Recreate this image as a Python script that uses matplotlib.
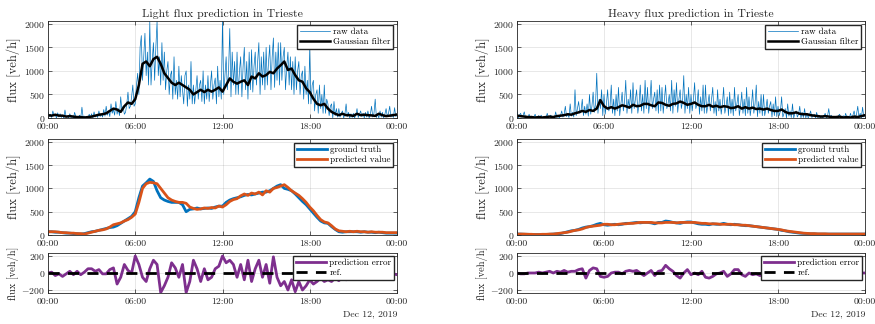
import matplotlib
matplotlib.use("Agg")
import matplotlib.pyplot as plt
import numpy as np

plt.rcParams['font.family'] = 'serif'
plt.rcParams['font.serif'] = ['cmr10']
plt.rcParams['mathtext.fontset'] = 'cm'
plt.rcParams['axes.unicode_minus'] = False
plt.rcParams['axes.formatter.use_mathtext'] = True

# tick labels for the time axis (hours of the day)
tick_hours = [0, 6, 12, 18, 24]
tick_labels = ["00:00", "06:00", "12:00", "18:00", "00:00"]
date_label = "Dec 12, 2019"

# raw data, every 5 minutes (veh/h), one row per hour
light_raw = [120, 30, 80, 10, 150, 40, 60, 0, 110, 20, 90, 10,
             60, 0, 170, 20, 40, 0, 90, 10, 30, 0, 120, 20,
             10, 0, 60, 0, 230, 10, 40, 0, 20, 0, 80, 10,
             90, 0, 130, 20, 60, 10, 150, 30, 90, 20, 180, 40,
             250, 60, 150, 30, 300, 100, 180, 60, 350, 80, 200, 50,
             450, 150, 250, 80, 120, 300, 550, 200, 250, 450, 700, 250,
             300, 700, 950, 500, 1500, 1750, 800, 1300, 1800, 900, 1400, 700,
             2050, 700, 1200, 1600, 800, 1500, 2050, 900, 1300, 700, 1600, 800,
             1400, 600, 1000, 1200, 500, 900, 1000, 400, 1300, 500, 800, 400,
             1100, 450, 900, 600, 300, 900, 1000, 250, 700, 400, 1200, 300,
             700, 300, 600, 900, 400, 700, 800, 350, 1000, 300, 700, 400,
             900, 350, 700, 1000, 400, 700, 850, 300, 1100, 450, 800, 400,
             2100, 500, 900, 1300, 600, 1000, 1900, 450, 1400, 700, 1200, 500,
             1400, 500, 1000, 1300, 450, 1100, 1500, 600, 1200, 400, 1400, 600,
             1450, 550, 1100, 1400, 700, 1200, 1600, 500, 1300, 700, 1400, 600,
             1500, 700, 1200, 1550, 600, 1300, 1700, 650, 1400, 800, 1600, 700,
             1600, 800, 1300, 1500, 600, 1100, 1400, 700, 1300, 600, 1200, 500,
             1300, 600, 1000, 1200, 500, 900, 1000, 400, 1100, 500, 800, 300,
             1500, 300, 700, 800, 150, 500, 600, 100, 700, 200, 500, 100,
             700, 100, 400, 300, 50, 250, 300, 0, 350, 50, 200, 20,
             200, 20, 100, 150, 0, 80, 300, 30, 120, 0, 90, 10,
             100, 0, 60, 200, 10, 80, 150, 30, 100, 0, 120, 20,
             150, 0, 80, 250, 20, 100, 400, 10, 90, 0, 150, 20,
             120, 0, 80, 200, 30, 100, 250, 20, 90, 10, 220, 30,
             60]
heavy_raw = [150, 0, 60, 100, 20, 50, 130, 10, 40, 0, 80, 10,
             40, 0, 30, 80, 0, 20, 50, 10, 60, 0, 30, 0,
             0, 100, 10, 30, 60, 0, 20, 0, 130, 10, 50, 0,
             50, 150, 20, 80, 250, 30, 80, 10, 300, 40, 120, 20,
             600, 50, 200, 350, 100, 150, 400, 50, 250, 80, 300, 40,
             500, 80, 250, 550, 120, 300, 950, 100, 400, 200, 600, 50,
             500, 80, 300, 600, 150, 250, 700, 100, 400, 50, 500, 150,
             650, 50, 300, 550, 150, 350, 800, 100, 400, 200, 600, 100,
             750, 200, 400, 600, 100, 300, 700, 150, 500, 100, 800, 200,
             650, 100, 350, 800, 200, 400, 550, 150, 600, 100, 700, 150,
             650, 100, 400, 700, 200, 300, 500, 150, 800, 100, 600, 250,
             750, 120, 400, 600, 200, 350, 900, 100, 500, 200, 650, 100,
             500, 150, 400, 750, 200, 300, 600, 80, 450, 150, 700, 100,
             700, 100, 300, 500, 150, 400, 650, 100, 350, 50, 600, 150,
             400, 80, 300, 650, 100, 250, 450, 50, 550, 100, 400, 50,
             650, 150, 300, 500, 50, 250, 550, 100, 400, 50, 650, 100,
             450, 50, 250, 600, 100, 300, 700, 30, 350, 100, 500, 50,
             500, 50, 200, 400, 100, 250, 350, 20, 300, 50, 450, 30,
             250, 50, 150, 450, 20, 100, 200, 0, 300, 40, 150, 10,
             300, 0, 100, 150, 20, 80, 250, 0, 120, 10, 200, 0,
             100, 0, 60, 150, 10, 40, 80, 0, 120, 0, 50, 0,
             50, 0, 30, 100, 0, 40, 200, 0, 60, 0, 30, 0,
             30, 0, 50, 80, 0, 20, 50, 0, 100, 0, 40, 0,
             100, 0, 60, 150, 0, 80, 250, 20, 100, 0, 230, 20,
             60]

# smoothed / predicted series, every 15 minutes (veh/h)
light_gauss = [60, 50, 70, 50, 50, 30, 40, 30, 20, 20, 10, 20,
               30, 50, 70, 80, 100, 150, 200, 180, 130, 250, 330, 300,
               400, 700, 1150, 1200, 1100, 1250, 1300, 1150, 950, 850, 750, 700,
               750, 700, 650, 600, 500, 550, 600, 550, 600, 560, 600, 650,
               560, 700, 840, 770, 730, 770, 800, 700, 880, 840, 950, 880,
               910, 980, 950, 1050, 1120, 1200, 1020, 1050, 910, 800, 770, 630,
               550, 410, 300, 270, 300, 200, 130, 90, 60, 90, 60, 60,
               45, 90, 60, 70, 60, 55, 45, 90, 60, 40, 50, 60, 75]
light_truth = [70, 70, 60, 60, 50, 40, 40, 30, 30, 20, 30, 50,
               70, 80, 100, 120, 140, 160, 170, 200, 250, 300, 350, 400,
               500, 800, 1050, 1120, 1200, 1150, 950, 800, 750, 720, 700, 700,
               700, 650, 500, 550, 560, 580, 560, 570, 580, 570, 600, 620,
               620, 700, 750, 780, 800, 820, 850, 870, 860, 880, 900, 920,
               920, 950, 1000, 1050, 1080, 1000, 980, 950, 880, 800, 720, 650,
               560, 470, 380, 300, 260, 250, 180, 120, 70, 60, 70, 70,
               70, 70, 60, 70, 60, 60, 50, 60, 50, 40, 40, 40, 40]
light_pred = [70, 70, 70, 60, 50, 50, 40, 40, 30, 30, 20, 40,
              60, 80, 100, 110, 130, 170, 220, 240, 260, 300, 330, 380,
              450, 700, 1000, 1100, 1130, 1120, 1100, 1000, 900, 800, 750, 720,
              700, 700, 680, 600, 570, 550, 560, 580, 570, 590, 580, 620,
              600, 650, 720, 760, 780, 840, 880, 850, 900, 880, 920, 860,
              950, 920, 1000, 1020, 1050, 1080, 1020, 950, 900, 850, 780, 700,
              600, 520, 420, 330, 280, 260, 200, 130, 90, 80, 70, 80,
              70, 80, 70, 70, 60, 70, 60, 60, 60, 50, 50, 50, 50]
light_err = [0, 10, -30, -10, -40, -10, 20, -20, 20, -20, 10, 50,
             50, 20, 40, -10, -10, 40, 60, -130, -50, 100, 30, 0,
             200, 100, -50, -100, 50, 150, 100, -230, -150, -50, 120, 60,
             -50, 100, -230, -100, 150, 50, -100, 50, -80, -50, 50, 80,
             200, 120, 150, 100, -50, 100, -80, 150, -100, 50, 150, -50,
             100, -120, 190, -50, -150, -100, -200, -80, -220, -100, -200, -150,
             -80, -130, -100, -60, -100, -80, -100, -60, -90, -50, -80, -40,
             -60, -50, -70, -60, -50, -40, -50, -40, -30, -20, 20, -10, -20]

heavy_gauss = [50, 40, 30, 20, 20, 10, 20, 10, 20, 30, 20, 40,
               50, 60, 80, 70, 100, 120, 150, 130, 170, 150, 200, 380,
               250, 200, 230, 200, 230, 270, 250, 220, 280, 250, 260, 300,
               300, 270, 250, 330, 320, 280, 260, 300, 310, 350, 320, 280,
               300, 330, 280, 250, 250, 280, 240, 260, 230, 250, 240, 210,
               220, 250, 200, 230, 200, 220, 190, 200, 180, 200, 170, 150,
               150, 180, 130, 100, 100, 120, 90, 80, 80, 60, 50, 40,
               30, 40, 30, 20, 20, 30, 10, 20, 10, 30, 20, 40, 60]
heavy_truth = [20, 20, 15, 15, 10, 10, 10, 10, 10, 15, 20, 25,
               30, 50, 70, 90, 100, 120, 150, 170, 180, 200, 230, 250,
               220, 210, 220, 230, 220, 230, 250, 250, 260, 270, 260, 270,
               270, 260, 240, 270, 270, 300, 290, 270, 260, 250, 270, 280,
               280, 260, 240, 230, 230, 220, 240, 230, 230, 250, 230, 220,
               230, 220, 210, 200, 200, 190, 180, 170, 160, 150, 140, 130,
               120, 100, 90, 70, 60, 50, 40, 35, 30, 25, 25, 20,
               20, 20, 20, 20, 20, 20, 20, 20, 20, 20, 20, 20, 20]
heavy_pred = [20, 20, 20, 15, 15, 10, 10, 15, 15, 20, 20, 30,
              40, 50, 60, 80, 100, 110, 130, 160, 180, 190, 200, 210,
              230, 230, 220, 220, 230, 240, 240, 250, 250, 260, 270, 270,
              270, 270, 260, 260, 260, 270, 270, 270, 260, 270, 270, 270,
              270, 270, 260, 250, 250, 240, 240, 240, 230, 230, 230, 230,
              220, 220, 210, 210, 200, 190, 180, 170, 160, 150, 140, 130,
              120, 110, 90, 80, 70, 60, 50, 40, 35, 30, 30, 25,
              25, 25, 20, 20, 20, 20, 20, 20, 20, 20, 20, 20, 20]
heavy_err = [0, -10, -10, 0, 0, 0, 10, 0, 10, 20, 0, 20,
             10, 30, 10, 20, 20, 40, 50, -60, 30, 60, 50, -40,
             -50, -40, 0, 10, 10, -10, 20, 30, 20, 30, 0, -30,
             0, 30, -30, 20, 30, 90, 50, 20, -30, -60, 0, 40,
             -20, 0, -20, 20, -50, -60, -40, -10, 0, 20, -40, -10,
             40, 40, -20, -40, 0, -20, -10, -30, -20, -10, -20, -10,
             -20, -10, -10, -10, -10, -10, -10, 0, 0, -10, 0, -10,
             0, 0, -10, 0, 0, -10, 0, 0, 0, 10, 20, 0, 0]

blue = '#0072BD'
orange = '#D95319'
purple = '#7E2F8E'
ink = '#262626'

fig = plt.figure(figsize=(8.75, 3.24), dpi=100)
W, H = 875.0, 324.0


def make_ax(x0, x1, y0, y1):
    return fig.add_axes([x0 / W, 1 - y1 / H, (x1 - x0) / W, (y1 - y0) / H])


def hours(series):
    return np.linspace(0, 24, len(series))


def add_legend(ax, pad=0.4):
    ax.legend(loc='upper right', fontsize=6.5, frameon=True, fancybox=False,
              edgecolor=ink, framealpha=1, borderpad=0.3, handlelength=3.3,
              handletextpad=0.4, labelspacing=0.2, borderaxespad=pad)


def style(ax, ylim, yticks, lab_size=9):
    ax.set_xlim(0, 24)
    ax.set_ylim(*ylim)
    ax.set_xticks(tick_hours)
    ax.set_xticklabels(tick_labels)
    ax.set_yticks(yticks)
    ax.grid(True, color=ink, alpha=0.12, lw=0.6)
    ax.tick_params(direction='in', top=True, right=True, labelsize=7,
                   length=3, width=0.5, colors=ink)
    ax.tick_params(axis='x', pad=3.5)
    ax.tick_params(axis='y', pad=2)
    for s in ax.spines.values():
        s.set_linewidth(0.6)
        s.set_color(ink)
    ax.set_ylabel('flux [veh/h]', fontsize=lab_size, color=ink, labelpad=2)


cols = [(48, 397, "Light flux prediction in Trieste", light_raw, light_gauss,
         light_truth, light_pred, light_err),
        (517, 865, "Heavy flux prediction in Trieste", heavy_raw, heavy_gauss,
         heavy_truth, heavy_pred, heavy_err)]

for x0, x1, title, raw, gauss, truth, pred, err in cols:
    # top: raw data + gaussian filter
    ax1 = make_ax(x0, x1, 21, 118)
    ax1.plot(hours(raw), raw, color=blue, lw=0.5, label='raw data')
    ax1.plot(hours(gauss), gauss, color='k', lw=1.8, label='Gaussian filter')
    style(ax1, (0, 2060), [0, 500, 1000, 1500, 2000])
    ax1.set_title(title, fontsize=8.5, pad=3, color=ink)
    add_legend(ax1)

    # middle: ground truth vs prediction
    ax2 = make_ax(x0, x1, 139, 235)
    ax2.plot(hours(truth), truth, color=blue, lw=2, label='ground truth')
    ax2.plot(hours(pred), pred, color=orange, lw=2, label='predicted value')
    style(ax2, (0, 2060), [0, 500, 1000, 1500, 2000])
    add_legend(ax2)

    # bottom: prediction error
    ax3 = make_ax(x0, x1, 253, 293)
    ax3.plot(hours(err), err, color=purple, lw=2, label='prediction error')
    ax3.axhline(0, color='k', lw=2, ls=(0, (4, 3)), label='ref.')
    style(ax3, (-235, 235), [-200, 0, 200], lab_size=7.5)
    add_legend(ax3, pad=0.3)
    ax3.text(1.0, -0.52, date_label, transform=ax3.transAxes, ha='right',
             va='center', fontsize=7, color=ink)

fig.savefig('out.png', dpi=100)
